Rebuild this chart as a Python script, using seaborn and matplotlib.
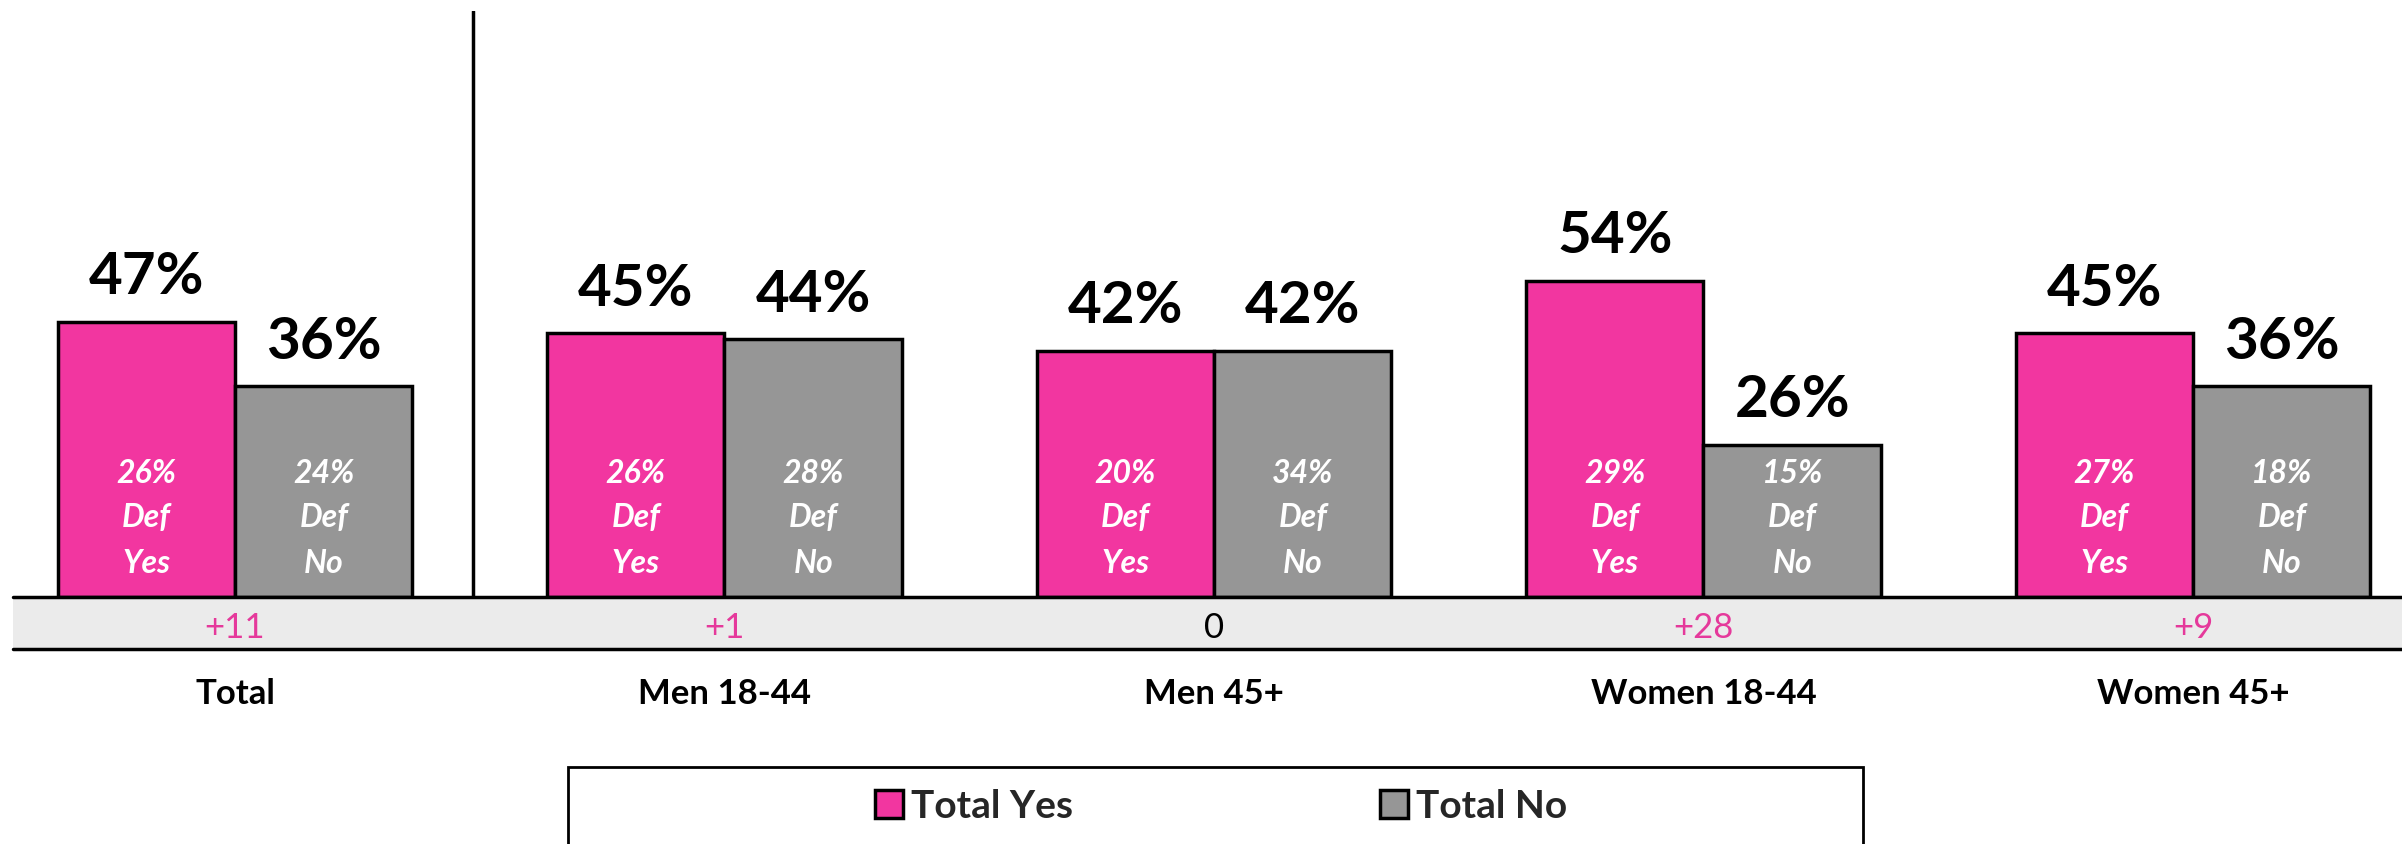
import matplotlib
matplotlib.use('Agg')
import matplotlib.pyplot as plt
import matplotlib.transforms as mtransforms
from matplotlib.patches import Rectangle
import seaborn as sns
import pandas as pd

# Data
groups = ['Total', 'Men 18-44', 'Men 45+', 'Women 18-44', 'Women 45+']
series = ['Total Yes', 'Total No']
total_yes = [47, 45, 42, 54, 45]
total_no = [36, 44, 42, 26, 36]
def_yes = [26, 26, 20, 29, 27]
def_no = [24, 28, 34, 15, 18]

PINK = '#F236A0'
GRAY = '#969696'
BAND = '#EBEBEB'
DIFF_PINK = '#E5399B'

sns.set_theme(style='white')
plt.rcParams['font.family'] = ['Lato', 'DejaVu Sans']

df = pd.DataFrame({
    'group': groups * 2,
    'series': [series[0]] * len(groups) + [series[1]] * len(groups),
    'value': total_yes + total_no,
})

W, H = 2402, 845
fig = plt.figure(figsize=(W / 100, H / 100), dpi=100)
ax = fig.add_axes([13 / W, 1 - 598 / H, 1 - 13 / W, 586 / H])

sns.barplot(data=df, x='group', y='value', hue='series', palette=[PINK, GRAY],
            width=0.725, gap=0, saturation=1, edgecolor='black', linewidth=2.5,
            ax=ax, zorder=3)

ax.set_xlim(-0.4535, 4.427)
ax.set_ylim(0, 100)
ax.set_axis_off()

# value labels on top + "Def" labels inside bars
for cont, tot, inner, word in zip(ax.containers, [total_yes, total_no],
                                  [def_yes, def_no], ['Yes', 'No']):
    for bar, v, d in zip(cont, tot, inner):
        cx = bar.get_x() + bar.get_width() / 2
        ax.annotate(f'{v}%', (cx, v), xytext=(0, 20.5), textcoords='offset points',
                    ha='center', va='baseline', fontsize=42, fontweight='bold',
                    color='black')
        for line, off in zip([f'{d}%', 'Def', word], [82.8, 51.1, 18.0]):
            ax.annotate(line, (cx, 0), xytext=(0, off), textcoords='offset points',
                        ha='center', va='baseline', fontsize=23, fontweight='bold',
                        fontstyle='italic', color='white', zorder=5)

# separator between Total and the subgroups
ax.axvline(0.486, color='black', lw=2.5, zorder=2)

# difference band under the bars
band_h = 52 / 586
ax.add_patch(Rectangle((0, -band_h), 1, band_h, transform=ax.transAxes,
                       facecolor=BAND, edgecolor='none', clip_on=False, zorder=1))
for yy in (0, -band_h):
    ax.plot([0, 1], [yy, yy], transform=ax.transAxes, color='black', lw=2.5,
            clip_on=False, zorder=6)

trans = mtransforms.blended_transform_factory(ax.transData, ax.transAxes)
for i, (g, y, n) in enumerate(zip(groups, total_yes, total_no)):
    diff = y - n
    label = f'+{diff}' if diff > 0 else str(diff)
    ax.text(i, -40 / 586, label, transform=trans, ha='center', va='baseline',
            fontsize=25, color=DIFF_PINK if diff > 0 else 'black', clip_on=False)
    ax.text(i, -106.5 / 586, g, transform=trans, ha='center', va='baseline',
            fontsize=25, fontweight='bold', color='black', clip_on=False)

# legend in a box at the bottom
handles, labels = ax.get_legend_handles_labels()
if ax.get_legend() is not None:
    ax.get_legend().remove()
fig.legend(handles, labels, loc='center', bbox_to_anchor=(1221 / W, 1 - 807 / H),
           ncol=2, frameon=False, prop={'weight': 'bold', 'size': 28},
           handlelength=0.72, handleheight=0.72, handletextpad=0.2,
           columnspacing=7.9)
fig.patches.append(Rectangle((568 / W, -0.05), 1295 / W, 1 - 768 / H + 0.05,
                             transform=fig.transFigure, fill=False,
                             edgecolor='black', lw=2))

fig.savefig('out.png', dpi=100)
